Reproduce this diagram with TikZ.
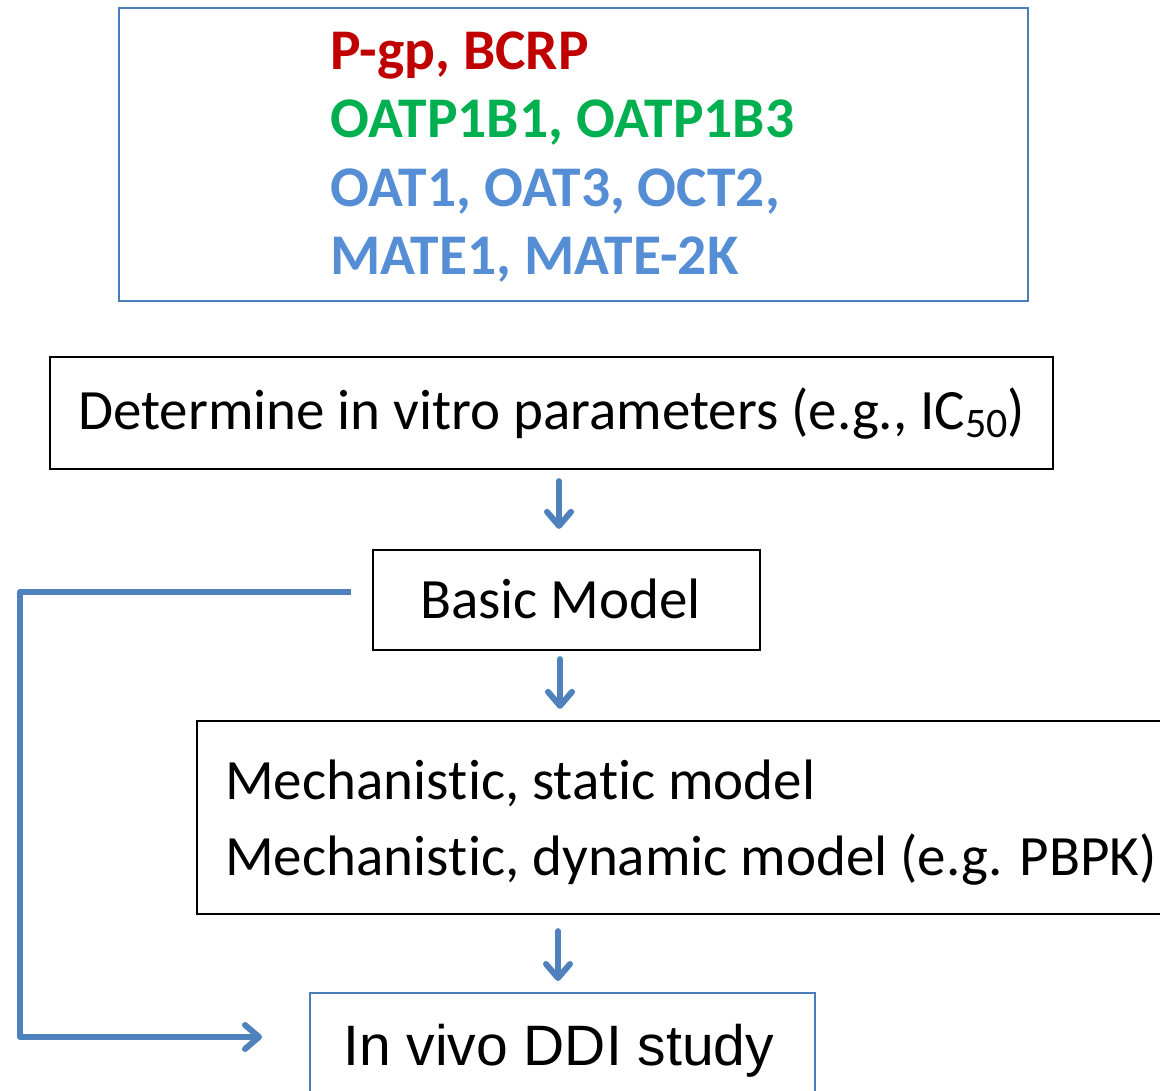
\documentclass[tikz,border=0pt]{standalone}
\usepackage{fontspec}
\setmainfont{Carlito}[Ligatures=NoCommon, RawFeature={-liga;-clig;-dlig;-calt}]
\newfontfamily\arialf{Liberation Sans}
\usetikzlibrary{arrows.meta,calc}
\definecolor{arrowblue}{HTML}{4F81BD}
\definecolor{boxblue}{HTML}{4A7EBB}
\definecolor{tred}{HTML}{C00000}
\definecolor{tgreen}{HTML}{00B050}
\definecolor{tblue}{HTML}{558ED5}
\begin{document}
\begin{tikzpicture}[x=1pt,y=-1pt,
  blackbox/.style={draw=black, line width=2.3pt, inner sep=0pt},
  bluebox/.style={draw=boxblue, line width=2pt, inner sep=0pt},
  txt/.style={anchor=base west, inner sep=0pt, font=\fontsize{57}{68}\selectfont},
  boldtxt/.style={anchor=base west, inner sep=0pt, font=\fontsize{57.5}{68}\selectfont\bfseries},
  arr/.style={draw=arrowblue, line width=6pt, line cap=round, line join=round,
    -{Straight Barb[length=14pt,width=24pt,line cap=round,line join=round]}}
]
\useasboundingbox (0,0) rectangle (1160,1091);
\clip (0,0) rectangle (1160,1091);
\fill[white] (0,0) rectangle (1160,1091);

% boxes
\node[bluebox, minimum width=909pt, minimum height=293pt] (top) at (573.5,154.5) {};
\node[blackbox, minimum width=1003pt, minimum height=112pt] (det) at (551.5,413) {};
\node[blackbox, minimum width=387pt, minimum height=100pt] (basic) at (566.5,600) {};
\node[blackbox, minimum width=978pt, minimum height=193pt] (mech) at (686,817.5) {};
\node[bluebox, minimum width=505pt, minimum height=107pt] (invivo) at (562.5,1046.5) {};

% texts
\node[boldtxt, text=tred] (t1) at (330,70) {P-gp, BCRP};
\node[boldtxt, text=tgreen] (t2) at (330,138) {OATP1B1, OATP1B3};
\node[boldtxt, text=tblue] (t3) at (330,207) {OAT1, OAT3, OCT2,};
\node[boldtxt, text=tblue] (t4) at (330,275) {MATE1, MATE-2K};

\node[txt] (dett) at (78,429) {Determine in vitro parameters (e.g., IC\raisebox{-8pt}{\fontsize{42}{44}\selectfont 50})};
\node[txt] (basict) at (420,618) {Basic Model};
\node[txt] (mech1) at (225,799) {Mechanis\kern0pt t\kern0pt ic, stat\kern0pt ic model};
\node[txt] (mech2) at (225,875) {Mechanis\kern0pt t\kern0pt ic, dynamic model (e.g. PBPK)};
\node[anchor=base west, inner sep=0pt, font=\arialf\fontsize{57}{66}\selectfont] (invivot) at (343,1065) {In vivo DDI study};

% connectors
\draw[arr] ($(det.south)+(7.5,11)$) -- ($(basic.north)+(-7.5,-20)$);
\draw[arr] ($(basic.south)+(-6.5,8)$) -- ($(mech.north)+(-126,-11)$);
\draw[arr] ($(mech.south)+(-128,16)$) -- ($(invivo.north)+(-4.5,-11)$);
\draw[arr, line cap=butt] ($(basic.west)+(-21,-8)$) -- ++(-331,0) |- ($(invivo.west)+(-47,-9.5)$);
\end{tikzpicture}
\end{document}
